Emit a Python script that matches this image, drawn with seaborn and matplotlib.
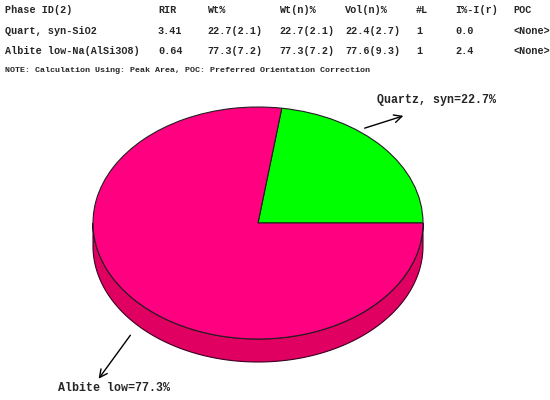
import matplotlib
matplotlib.use("Agg")
import matplotlib.pyplot as plt
import seaborn as sns
import numpy as np
from matplotlib.patches import Polygon

sns.set_theme(style="white")
plt.rcParams['font.family'] = ['Liberation Mono', 'DejaVu Sans Mono']

# ---- data ----
headers = ["Phase ID(2)", "RIR", "Wt%", "Wt(n)%", "Vol(n)%", "#L", "I%-I(r)", "POC"]
phases = ["Quart, syn-SiO2", "Albite low-Na(AlSi3O8)"]
rir = ["3.41", "0.64"]
wt = ["22.7(2.1)", "77.3(7.2)"]
wtn = ["22.7(2.1)", "77.3(7.2)"]
voln = ["22.4(2.7)", "77.6(9.3)"]
nlines = ["1", "1"]
idiff = ["0.0", "2.4"]
poc = ["<None>", "<None>"]
note = "NOTE: Calculation Using: Peak Area, POC: Preferred Orientation Correction"

pie_labels = ["Quartz, syn", "Albite low"]
pie_values = [22.7, 77.3]
pie_colors = ["#00FF00", "#FF0080"]
side_color = "#DF0062"

# ---- figure ----
W, H = 550, 400
fig = plt.figure(figsize=(5.5, 4), dpi=100)
fig.patch.set_facecolor("white")

# pie axes (ellipse: center 258,223 px; rx 165; ry 116; depth 23)
cx, cy, rx, ry, depth = 258, 223, 165, 116, 23
xl, xr = -1.3, 1.3
yb, yt = -1.5, 1.3
left_px = cx + xl * rx
top_px = cy - yt * ry
pw = (xr - xl) * rx
ph = (yt - yb) * ry
pax = fig.add_axes([left_px / W, (H - (top_px + ph)) / H, pw / W, ph / H])
d = depth / ry

t = np.linspace(np.pi, 2 * np.pi, 300)
side = np.concatenate([np.column_stack([np.cos(t), np.sin(t)]),
                       np.column_stack([np.cos(t[::-1]), np.sin(t[::-1]) - d])])
pax.add_patch(Polygon(side, closed=True, facecolor=side_color,
                      edgecolor="#3a0020", linewidth=0.8, zorder=0.5))

pax.pie(pie_values, colors=pie_colors, startangle=0, counterclock=True,
        radius=1, center=(0, 0), frame=True,
        wedgeprops=dict(edgecolor="#202020", linewidth=0.8))
pax.set_aspect("auto")
pax.set_xlim(xl, xr)
pax.set_ylim(yb, yt)
pax.axis("off")

# overlay axes in pixel coordinates for text
tax = fig.add_axes([0, 0, 1, 1], facecolor="none")
tax.set_xlim(0, W)
tax.set_ylim(H, 0)
tax.axis("off")

col_x = [5, 158, 207, 279, 345, 416, 455, 513]
row_y = [10, 31, 51]
fs = 7.3
for x, h in zip(col_x, headers):
    tax.text(x, row_y[0], h, fontsize=fs, fontweight="bold", va="center", ha="left")
rows = list(zip(phases, rir, wt, wtn, voln, nlines, idiff, poc))
for r, vals in enumerate(rows):
    for x, v in zip(col_x, vals):
        tax.text(x, row_y[r + 1], v, fontsize=fs, fontweight="bold", va="center", ha="left")
tax.text(5, 71, note, fontsize=6.0, fontweight="bold", va="center", ha="left")

# pie labels with arrows
arrow = dict(arrowstyle="->", color="black", lw=1.0, mutation_scale=14)
tax.annotate("", xy=(406, 115), xytext=(362, 129), arrowprops=arrow)
tax.text(377, 100, f"{pie_labels[0]}={pie_values[0]}%", fontsize=8.4,
         fontweight="bold", va="center", ha="left")
tax.annotate("", xy=(97, 381), xytext=(132, 333), arrowprops=arrow)
tax.text(58, 388, f"{pie_labels[1]}={pie_values[1]}%", fontsize=8.4,
         fontweight="bold", va="center", ha="left")

fig.savefig("out.png", dpi=100, facecolor="white")
